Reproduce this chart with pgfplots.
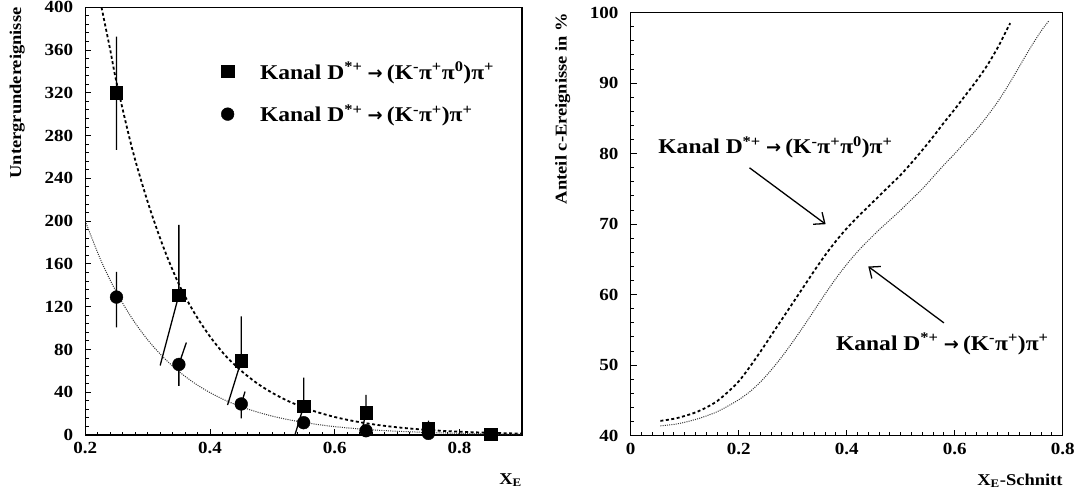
\documentclass[border=0pt]{standalone}
\usepackage{fontspec}
\setmainfont{Liberation Serif}[FakeStretch=1.12]
\newfontfamily\arrowfont{DejaVu Sans}
\usepackage{pgfplots}
\pgfplotsset{compat=1.18}
\usetikzlibrary{arrows.meta}
\pgfplotsset{
  rootaxis/.style={
    scale only axis,
    anchor=south west,
    tick align=inside,
    xtick pos=bottom,
    ytick pos=left,
    major tick length=6pt,
    minor tick length=3.3pt,
    axis line style={line width=1.3pt},
    every tick/.style={black, line width=1pt},
    /pgf/number format/assume math mode=true,
    tick label style={font=\bfseries\fontsize{17}{17}\selectfont},
    xticklabel style={inner sep=0pt, yshift=-7pt},
    yticklabel style={inner sep=0pt, xshift=-12pt},
    label style={font=\bfseries\fontsize{16.5}{16.5}\selectfont},
    xlabel style={at={(rel axis cs:1,0)}, anchor=north east, inner sep=0pt, yshift=-38pt},
    ylabel style={at={(rel axis cs:0,1)}, anchor=east, inner sep=0pt, yshift=68pt},
  }
}
\newcommand{\arr}{\hspace{0.25em}{\arrowfont\fontsize{18}{18}\selectfont →}\hspace{0.2em}}
\newcommand{\kanalA}{Kanal D\textsuperscript{*+}\arr(K\textsuperscript{-}π\textsuperscript{+}π\textsuperscript{0})π\textsuperscript{+}}
\newcommand{\kanalB}{Kanal D\textsuperscript{*+}\arr(K\textsuperscript{-}π\textsuperscript{+})π\textsuperscript{+}}
\begin{document}
\begin{tikzpicture}
\path[use as bounding box] (0,0) rectangle (1077pt,497pt);
% ---------------- left panel ----------------
\begin{axis}[rootaxis,
  at={(85.3pt,62pt)}, width=436.7pt, height=427.7pt,
  xmin=0.2, xmax=0.9, ymin=0, ymax=400,
  xtick={0.2,0.4,0.6,0.8}, ytick={0,40,80,120,160,200,240,280,320,360,400},
  minor x tick num=9, minor y tick num=4,
  xlabel={X\textsubscript{E}}, ylabel={Untergrundereignisse},
  legend cell align=left,
  legend style={draw=none, fill=none, at={(rel axis cs:0.304,0.882)}, anchor=north west,
    font=\bfseries\fontsize{21}{21}\selectfont, row sep=20pt},
  clip=true,
]
% dashed fit (channel with pi0)
\addplot[forget plot, black, line width=1.8pt, dash pattern=on 3pt off 2.5pt, smooth] coordinates {
(0.226,400)(0.24,360)(0.25,330)(0.275,268)(0.3,218)(0.325,176)(0.35,141)(0.375,114)
(0.4,92)(0.425,74)(0.45,60)(0.475,48.5)(0.5,39.3)(0.525,31.8)(0.55,25.7)(0.575,20.8)
(0.6,16.8)(0.625,13.6)(0.65,11.0)(0.675,8.9)(0.7,7.2)(0.725,5.8)(0.75,4.7)(0.775,3.8)
(0.8,3.1)(0.825,2.5)(0.85,2.0)(0.875,1.6)(0.9,1.3)};
% dotted fit
\addplot[forget plot, black!80, line width=1pt, dash pattern=on 1pt off 1.2pt, smooth] coordinates {
(0.2,200)(0.225,163.3)(0.25,133.4)(0.275,109.0)(0.3,89.0)(0.325,72.7)(0.35,59.4)(0.375,48.5)
(0.4,39.6)(0.425,32.3)(0.45,26.4)(0.475,21.6)(0.5,17.6)(0.525,14.4)(0.55,11.8)(0.575,9.6)
(0.6,7.8)(0.625,6.4)(0.65,5.2)(0.675,4.3)(0.7,3.5)(0.725,2.9)(0.75,2.3)(0.8,1.6)(0.85,1.0)(0.9,0.7)};
% error bars
\addplot[forget plot, black, line width=1.3pt, unbounded coords=jump] coordinates {
(0.25,266.6)(0.25,372.5)(0.25,nan)
(0.35,131)(0.35,196.6)(0.35,nan)
(0.32,65)(0.35,131)(0.35,nan)
(0.45,69.5)(0.45,111)(0.45,nan)
(0.428,28)(0.45,69.5)(0.45,nan)
(0.55,27)(0.55,53.7)(0.55,nan)
(0.536,0)(0.55,27)(0.55,nan)
(0.65,21)(0.65,37.5)(0.65,nan)
(0.643,3)(0.65,21)(0.65,nan)
(0.75,0)(0.75,13.4)(0.75,nan)
(0.25,100.6)(0.25,152.5)(0.25,nan)
(0.35,46)(0.35,66)(0.35,nan)
(0.35,66)(0.362,86.5)(0.35,nan)
(0.45,15.6)(0.45,29)(0.45,nan)
(0.45,29)(0.456,40.6)(0.45,nan)
(0.55,6)(0.55,17)(0.55,nan)
(0.65,1)(0.65,8)(0.65,nan)
(0.75,0)(0.75,3)};
\addplot[only marks, mark=square*, mark size=6.2pt, black] coordinates {
(0.25,320)(0.35,131)(0.45,69.5)(0.55,27)(0.65,21)(0.75,6)(0.85,0.5)};
\addlegendentry{\hspace{24pt}\kanalA}
\addplot[only marks, mark=*, mark size=6.4pt, black] coordinates {
(0.25,129)(0.35,66)(0.45,29)(0.55,11.5)(0.65,4)(0.75,1.5)};
\addlegendentry{\hspace{24pt}\kanalB}
\end{axis}
% ---------------- right panel ----------------
\begin{axis}[rootaxis,
  at={(630.7pt,61.3pt)}, width=432pt, height=423pt,
  xmin=0, xmax=0.8, ymin=40, ymax=100,
  xtick={0,0.2,0.4,0.6,0.8}, ytick={40,50,60,70,80,90,100},
  minor x tick num=9, minor y tick num=4,
  xlabel={X\textsubscript{E}-Schnitt}, ylabel={Anteil c-Ereignisse in \%},
]
\addplot[black, line width=1.8pt, dash pattern=on 3pt off 2.5pt, smooth] coordinates {
(0.055,42.1)(0.08,42.4)(0.10,42.8)(0.12,43.3)(0.14,44.0)(0.16,44.9)(0.18,46.2)(0.20,47.7)
(0.22,49.7)(0.24,51.9)(0.26,54.2)(0.28,56.5)(0.30,58.8)(0.32,61.1)(0.34,63.4)(0.36,65.6)
(0.38,67.6)(0.40,69.4)(0.42,71.0)(0.44,72.5)(0.46,74.0)(0.48,75.5)(0.50,77.0)(0.52,78.7)
(0.54,80.5)(0.56,82.4)(0.58,84.4)(0.60,86.3)(0.62,88.3)(0.64,90.3)(0.66,92.5)(0.68,95.1)
(0.70,98.1)(0.703,98.5)};
\addplot[black!80, line width=1pt, dash pattern=on 1pt off 1.2pt, smooth] coordinates {
(0.055,41.4)(0.08,41.6)(0.10,41.9)(0.12,42.3)(0.14,42.8)(0.16,43.4)(0.18,44.2)(0.20,45.1)
(0.22,46.2)(0.24,47.6)(0.26,49.3)(0.28,51.2)(0.30,53.3)(0.32,55.5)(0.34,57.8)(0.36,60.1)
(0.38,62.3)(0.40,64.3)(0.42,66.1)(0.44,67.7)(0.46,69.2)(0.48,70.6)(0.50,72.0)(0.52,73.5)
(0.54,75.0)(0.56,76.7)(0.58,78.4)(0.60,80.0)(0.62,81.7)(0.64,83.4)(0.66,85.3)(0.68,87.4)
(0.70,89.8)(0.72,92.4)(0.74,95.0)(0.76,97.4)(0.775,98.9)};
\addplot[black, line width=1.3pt, -{Straight Barb[length=9pt,width=15pt,line width=1.3pt]}] coordinates {(0.22,78)(0.361,70)};
\addplot[black, line width=1.3pt, -{Straight Barb[length=9pt,width=15pt,line width=1.3pt]}] coordinates {(0.580,56)(0.44,64)};
\node[anchor=base west, inner sep=0pt, font=\bfseries\fontsize{21}{21}\selectfont] at (axis cs:0.051,80) {\kanalA};
\node[anchor=base west, inner sep=0pt, font=\bfseries\fontsize{21}{21}\selectfont] at (axis cs:0.380,52.15) {\kanalB};
\end{axis}
\end{tikzpicture}
\end{document}
